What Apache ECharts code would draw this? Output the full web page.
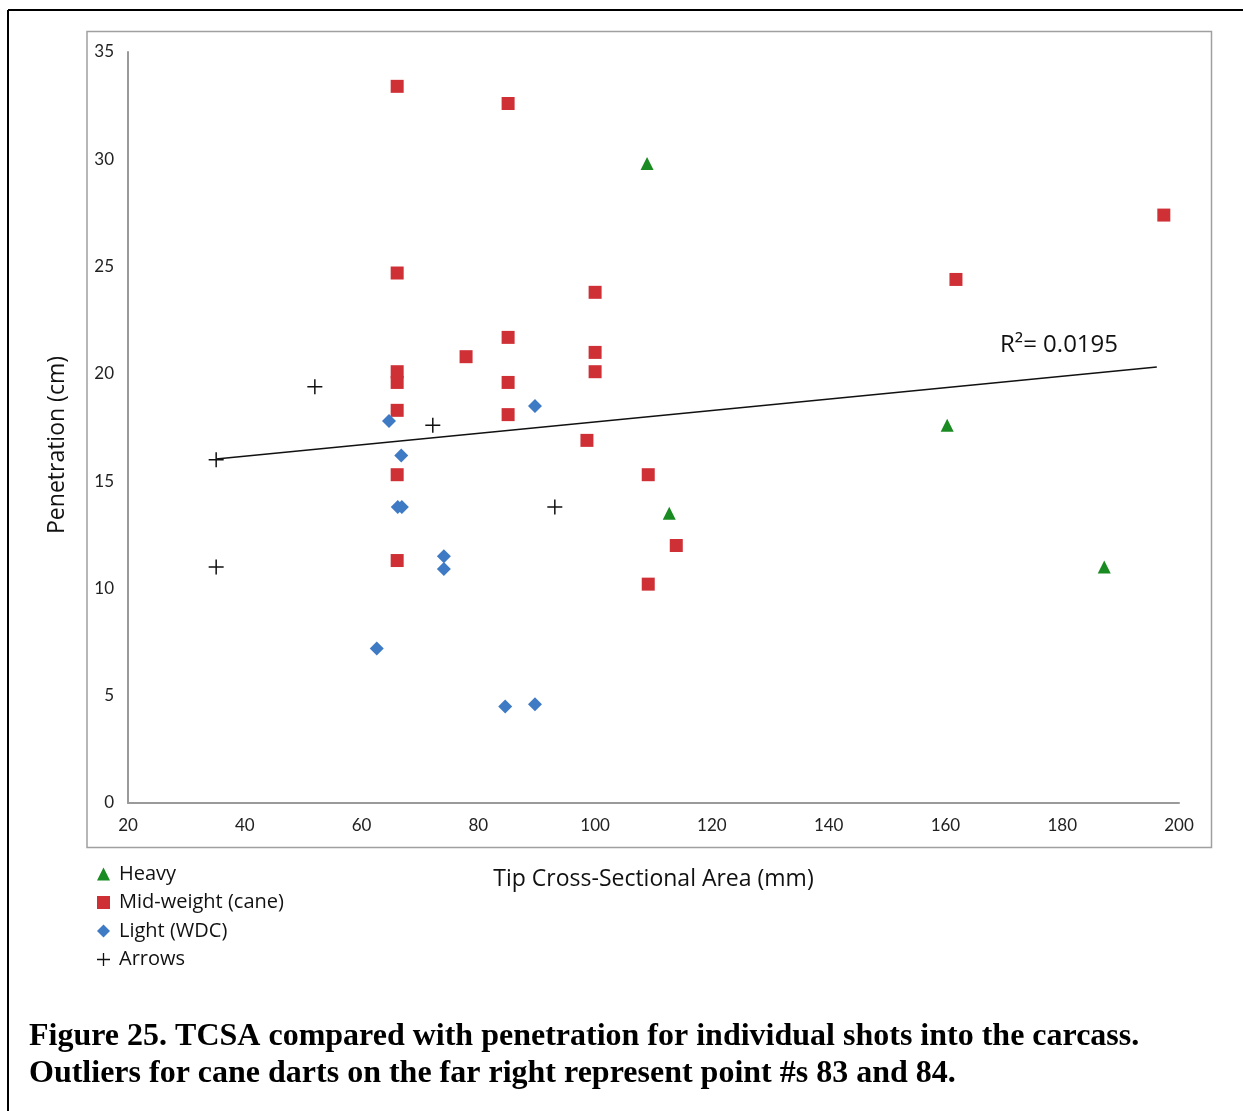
<!DOCTYPE html>
<html>
<head>
<meta charset="utf-8">
<script src="https://cdn.jsdelivr.net/npm/echarts@6/dist/echarts.min.js"></script>
<style>
  html, body { margin: 0; padding: 0; background: #fff; }
  #chart { width: 1243px; height: 1111px; }
</style>
</head>
<body>
<div id="chart"></div>
<script>
// values: [TCSA, penetration]
var heavy = [[108.9, 29.8], [160.3, 17.6], [112.7, 13.5], [187.2, 11.0]];
var midWeight = [
  [66.1, 33.4], [85.1, 32.6], [197.4, 27.4], [66.1, 24.7], [161.8, 24.4],
  [100, 23.8], [85.1, 21.7], [77.9, 20.8], [100, 21.0], [66.1, 20.1],
  [66.1, 19.6], [100, 20.1], [85.1, 19.6], [66.1, 18.3], [85.1, 18.1],
  [98.6, 16.9], [66.1, 15.3], [109.1, 15.3], [113.9, 12.0], [66.1, 11.3],
  [109.1, 10.2]
];
var light = [
  [64.7, 17.8], [89.7, 18.5], [66.8, 16.2], [66.2, 13.8], [66.9, 13.8],
  [74.1, 11.5], [74.1, 10.9], [62.6, 7.2], [84.6, 4.5], [89.7, 4.6]
];
var arrows = [[52, 19.4], [72.2, 17.6], [35.1, 16.0], [35.1, 11.0], [93.1, 13.8]];
// linear trend line end points (R² = 0.0195)
var trend = [[35.1, 16.03], [196.2, 20.32]];
var seriesNames = ['Heavy', 'Mid-weight (cane)', 'Light (WDC)', 'Arrows'];

var crossIcon = 'path://M6.3,0H7.7V14H6.3ZM0,6.3H14V7.7H0Z';
var font = '"Open Sans", Lato, sans-serif';
var tickFont = 'Lato, "Open Sans", sans-serif';

var chart = echarts.init(document.getElementById('chart'));
var option = {
  animation: false,
  backgroundColor: '#fff',
  grid: { left: 128, right: 64, top: 52, bottom: 308 },
  xAxis: {
    type: 'value', min: 20, max: 200, interval: 20,
    name: 'Tip Cross-Sectional Area (mm)', nameLocation: 'middle', nameGap: 65,
    nameTextStyle: { fontFamily: font, fontSize: 23, color: '#111' },
    axisLine: { lineStyle: { color: '#9a9a9a', width: 2 } },
    axisTick: { show: false },
    splitLine: { show: false },
    axisLabel: { fontFamily: tickFont, fontSize: 17, color: '#222', margin: 14 }
  },
  yAxis: {
    type: 'value', min: 0, max: 35, interval: 5,
    axisLine: { show: true, lineStyle: { color: '#9a9a9a', width: 2 } },
    axisTick: { show: false },
    splitLine: { show: false },
    axisLabel: { fontFamily: tickFont, fontSize: 17, color: '#222', margin: 14 }
  },
  legend: {
    orient: 'vertical', left: 92, top: 859,
    itemWidth: 13, itemHeight: 13, itemGap: 8.5,
    textStyle: { fontFamily: font, fontSize: 20, color: '#111', padding: [0, 0, 0, 4] },
    data: [
      { name: seriesNames[0], icon: 'triangle' },
      { name: seriesNames[1], icon: 'rect' },
      { name: seriesNames[2], icon: 'diamond' },
      { name: seriesNames[3], icon: crossIcon }
    ]
  },
  series: [
    { name: seriesNames[0], type: 'scatter', symbol: 'triangle', symbolSize: 13,
      itemStyle: { color: '#1a8a22', opacity: 1 }, data: heavy },
    { name: seriesNames[1], type: 'scatter', symbol: 'rect', symbolSize: 13,
      itemStyle: { color: '#cf3036', opacity: 1 }, data: midWeight },
    { name: seriesNames[2], type: 'scatter', symbol: 'diamond', symbolSize: 14,
      itemStyle: { color: '#3f7bc4', opacity: 1 }, data: light },
    { name: seriesNames[3], type: 'scatter', symbol: crossIcon, symbolSize: 15,
      itemStyle: { color: '#111', opacity: 1 }, data: arrows },
    { name: 'trend', type: 'line', data: trend, symbol: 'none',
      lineStyle: { color: '#111', width: 1.5 }, z: 1 }
  ],
  graphic: [
    // outer page frame (top and left)
    { type: 'line', shape: { x1: 8, y1: 10, x2: 1243, y2: 10 }, style: { stroke: '#000', lineWidth: 2 } },
    { type: 'line', shape: { x1: 8, y1: 10, x2: 8, y2: 1111 }, style: { stroke: '#000', lineWidth: 2 } },
    // chart area border
    { type: 'rect', shape: { x: 87, y: 31.5, width: 1124.5, height: 816 },
      style: { fill: null, stroke: '#a0a0a0', lineWidth: 1.5 }, z: -1 },
    // y axis title
    { type: 'text', x: 57, y: 445, rotation: Math.PI / 2,
      style: { text: 'Penetration (cm)', fontFamily: font, fontSize: 23, fill: '#111',
        align: 'center', verticalAlign: 'middle' } },
    { type: 'text', left: 1000, top: 333,
      style: { text: 'R²= 0.0195', fontFamily: font, fontSize: 24, fill: '#111' } },
    { type: 'text', left: 29, top: 1018,
      style: {
        text: 'Figure 25. TCSA compared with penetration for individual shots into the carcass.\nOutliers for cane darts on the far right represent point #s 83 and 84.',
        fontFamily: '"Liberation Serif", "DejaVu Serif", serif', fontWeight: 'bold',
        fontSize: 32, lineHeight: 37, fill: '#000'
      } }
  ]
};
chart.setOption(option);
</script>
</body>
</html>
